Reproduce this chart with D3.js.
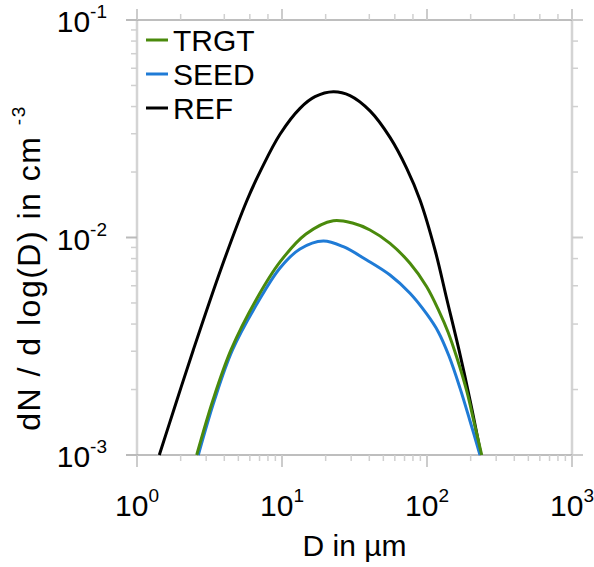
<!DOCTYPE html>
<html>
<head>
<meta charset="utf-8">
<script src="https://cdn.jsdelivr.net/npm/d3@7"></script>
<style>
  body { margin: 0; background: #fff; }
  svg { display: block; font-family: "Liberation Sans", Arial, sans-serif; }
</style>
</head>
<body>
<svg width="594" height="567"></svg>
<script>
// size distributions (D in um, dN/dlogD in cm^-3)
const refD  = [1.425, 1.858, 2.445, 3.838, 5.709, 7.244, 9.688, 13.31, 16.89, 22.59, 29.44, 40.45, 55.57, 72.44, 89.47, 113.6, 137.4, 166.2, 198.0, 235.8];
const refV  = [1e-3, 1.734e-3, 3.041e-3, 7.32e-3, 0.01472, 0.0208, 0.02985, 0.03926, 0.04441, 0.04681, 0.04493, 0.03821, 0.02885, 0.0208, 0.01488, 8.76e-3, 5.16e-3, 3.041e-3, 1.79e-3, 1e-3];

const trgtD = [2.581, 3.343, 4.449, 6.619, 9.688, 14.64, 22.59, 31.02, 40.45, 55.57, 76.34, 99.52, 121.0, 139.6, 161.0, 188.7, 210.9, 238.4];
const trgtV = [1e-3, 1.79e-3, 3.041e-3, 5.16e-3, 7.72e-3, 0.01038, 0.01195, 0.01162, 0.01083, 9.40e-3, 7.61e-3, 5.94e-3, 4.59e-3, 3.68e-3, 2.79e-3, 1.949e-3, 1.418e-3, 1e-3];

const seedD = [2.647, 3.424, 4.556, 6.832, 9.688, 13.31, 19.27, 26.48, 38.38, 55.57, 76.34, 99.52, 119.7, 141.8, 168.9, 198.0, 232.0];
const seedV = [1e-3, 1.79e-3, 3.041e-3, 5.05e-3, 7.24e-3, 8.86e-3, 9.64e-3, 9.07e-3, 7.88e-3, 6.72e-3, 5.54e-3, 4.45e-3, 3.68e-3, 2.85e-3, 2.03e-3, 1.433e-3, 1e-3];

const seriesNames  = ["TRGT", "SEED", "REF"];
const seriesColors = ["#4a8a0c", "#1f7bd6", "#000000"];

const xMajor = [1, 10, 100, 1000];
const xExp   = ["0", "1", "2", "3"];
const yMajor = [1e-3, 1e-2, 1e-1];
const yExp   = ["-3", "-2", "-1"];

const svg = d3.select("svg");
const pL = 137, pR = 572, pT = 20, pB = 455;

const x = d3.scaleLog().domain([1, 1000]).range([pL, pR]);
const y = d3.scaleLog().domain([1e-3, 1e-1]).range([pB, pT]);

// minor tick values (2..9 per decade)
const xMinor = [], yMinor = [];
[1, 10, 100].forEach(dec => d3.range(2, 10).forEach(k => xMinor.push(k * dec)));
[1e-3, 1e-2].forEach(dec => d3.range(2, 10).forEach(k => yMinor.push(k * dec)));
const even = v => { const k = Math.round(v / Math.pow(10, Math.floor(Math.log10(v) + 1e-9))); return k % 2 === 0; };

const ax = svg.append("g");

// vertical frame lines (light, thick)
ax.selectAll(".vspine").data([pL, pR]).enter().append("line")
  .attr("x1", d => d).attr("x2", d => d).attr("y1", pT).attr("y2", pB)
  .attr("stroke", "#d4d4d4").attr("stroke-width", 2.5);

// horizontal frame lines
ax.selectAll(".hspine").data([pT, pB]).enter().append("line")
  .attr("x1", pL - 11).attr("x2", pR + 11).attr("y1", d => d).attr("y2", d => d)
  .attr("stroke", "#a8a8a8").attr("stroke-width", 1.5);

// bottom ticks
ax.selectAll(".bmin").data(xMinor).enter().append("line")
  .attr("x1", d => x(d)).attr("x2", d => x(d)).attr("y1", pB).attr("y2", pB + 6)
  .attr("stroke", "#d0d0d0").attr("stroke-width", 1.5);
ax.selectAll(".bmaj").data(xMajor).enter().append("line")
  .attr("x1", d => x(d)).attr("x2", d => x(d)).attr("y1", pB).attr("y2", pB + 12)
  .attr("stroke", "#cccccc").attr("stroke-width", 2);

// top ticks (even minors only)
ax.selectAll(".tmin").data(xMinor.filter(even)).enter().append("line")
  .attr("x1", d => x(d)).attr("x2", d => x(d)).attr("y1", pT).attr("y2", pT - 6)
  .attr("stroke", "#d0d0d0").attr("stroke-width", 1.5);
ax.selectAll(".tmaj").data(xMajor).enter().append("line")
  .attr("x1", d => x(d)).attr("x2", d => x(d)).attr("y1", pT).attr("y2", pT - 11)
  .attr("stroke", "#cccccc").attr("stroke-width", 2);

// left ticks
ax.selectAll(".lmin").data(yMinor).enter().append("line")
  .attr("x1", pL).attr("x2", pL - 6).attr("y1", d => y(d)).attr("y2", d => y(d))
  .attr("stroke", "#d0d0d0").attr("stroke-width", 1.5);
ax.selectAll(".lmaj").data(yMajor).enter().append("line")
  .attr("x1", pL).attr("x2", pL - 11).attr("y1", d => y(d)).attr("y2", d => y(d))
  .attr("stroke", "#bbbbbb").attr("stroke-width", 2);

// right ticks (even minors only)
ax.selectAll(".rmin").data(yMinor.filter(even)).enter().append("line")
  .attr("x1", pR).attr("x2", pR + 6).attr("y1", d => y(d)).attr("y2", d => y(d))
  .attr("stroke", "#d0d0d0").attr("stroke-width", 1.5);
ax.selectAll(".rmaj").data(yMajor).enter().append("line")
  .attr("x1", pR).attr("x2", pR + 11).attr("y1", d => y(d)).attr("y2", d => y(d))
  .attr("stroke", "#cccccc").attr("stroke-width", 2);

// tick labels with superscript exponents
const fs = 30, sup = 19;
const xl = ax.selectAll(".xlab").data(xMajor).enter().append("text")
  .attr("x", d => x(d)).attr("y", 516).attr("text-anchor", "middle")
  .attr("font-size", fs).attr("fill", "#000");
xl.append("tspan").text("10");
xl.append("tspan").attr("font-size", sup).attr("dy", -14).text((d, i) => xExp[i]);

const yl = ax.selectAll(".ylab").data(yMajor).enter().append("text")
  .attr("x", 107).attr("y", d => y(d) + 12).attr("text-anchor", "end")
  .attr("font-size", fs).attr("fill", "#000");
yl.append("tspan").text("10");
yl.append("tspan").attr("font-size", sup).attr("dy", -14).text((d, i) => yExp[i]);

// axis titles
svg.append("text").attr("x", (pL + pR) / 2).attr("y", 556)
  .attr("text-anchor", "middle").attr("font-size", fs).text("D in \u00b5m");

const yt = svg.append("text")
  .attr("transform", "translate(40," + 268 + ") rotate(-90)")
  .attr("text-anchor", "middle").attr("font-size", 32)
  .attr("letter-spacing", 1.5);
yt.append("tspan").text("dN / d log(D) in cm ");
yt.append("tspan").attr("font-size", sup).attr("dy", -15).text("-3");

// curves
const line = d3.line()
  .x(d => x(d[0])).y(d => y(d[1]))
  .curve(d3.curveCatmullRom.alpha(0.5));

const series = [
  d3.zip(trgtD, trgtV),
  d3.zip(seedD, seedV),
  d3.zip(refD, refV)
];

// draw order: REF, SEED, TRGT on top
const order = [2, 1, 0];
svg.selectAll(".curve").data(order).enter().append("path")
  .attr("d", i => line(series[i]))
  .attr("fill", "none")
  .attr("stroke", i => seriesColors[i])
  .attr("stroke-width", 3)
  .attr("stroke-linejoin", "round");

// legend
const lg = svg.selectAll(".leg").data(seriesNames).enter().append("g")
  .attr("transform", (d, i) => "translate(146," + (40 + i * 34) + ")");
lg.append("line").attr("x1", 0).attr("x2", 22).attr("y1", 0).attr("y2", 0)
  .attr("stroke", (d, i) => seriesColors[i]).attr("stroke-width", 3);
lg.append("text").attr("x", 27).attr("y", 10.5).attr("font-size", fs).text(d => d);
</script>
</body>
</html>
